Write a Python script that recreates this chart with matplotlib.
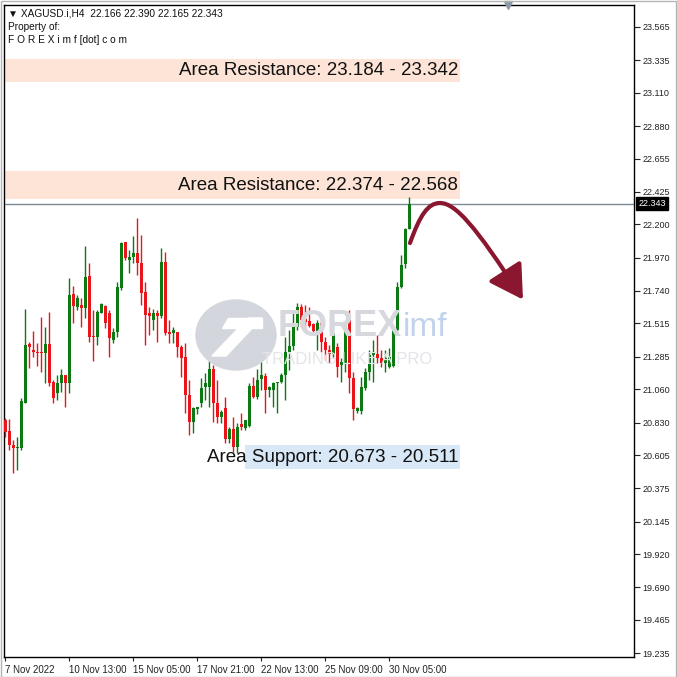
import matplotlib.pyplot as plt
from matplotlib.patches import Rectangle, Ellipse, FancyArrowPatch, Polygon
from matplotlib.path import Path

plt.rcParams['font.family'] = ['Liberation Sans', 'DejaVu Sans']

# H4 candles, XAGUSD
opens = [20.848, 20.774, 20.675, 20.652, 20.652, 20.968, 21.371, 21.332, 21.320, 21.320,
         21.313, 21.371, 21.113, 21.037, 21.106, 21.159, 21.106, 21.719, 21.632, 21.643,
         21.620, 21.844, 21.429, 21.424, 21.590, 21.636, 21.585, 21.401, 21.459, 21.758,
         22.076, 21.954, 21.977, 22.005, 21.931, 21.735, 21.585, 21.539, 21.585, 21.567,
         21.943, 21.459, 21.447, 21.459, 21.350, 21.286, 21.021, 20.836, 20.922, 20.963,
         21.078, 21.078, 21.198, 20.963, 20.871, 20.929, 20.714, 20.783, 20.664, 20.818,
         20.790, 20.806, 21.083, 21.009, 21.129, 21.152, 21.055, 21.055, 21.101, 21.113,
         21.159, 21.320, 21.360, 21.493, 21.627, 21.544, 21.535, 21.512, 21.466, 21.516,
         21.389, 21.332, 21.304, 21.355, 21.228, 21.244, 21.551, 21.136, 20.912, 20.912,
         21.067, 21.182, 21.297, 21.304, 21.274, 21.239, 21.216, 21.221, 21.470, 21.770,
         21.926, 22.166]
highs = [20.859, 20.852, 20.710, 20.733, 20.998, 21.615, 21.389, 21.466, 21.378, 21.562,
         21.493, 21.592, 21.124, 21.159, 21.198, 21.159, 21.827, 21.774, 21.712, 21.689,
         22.053, 21.936, 21.608, 21.608, 21.655, 21.643, 21.608, 21.482, 21.804, 22.081,
         22.081, 22.023, 22.120, 22.242, 22.127, 21.804, 21.632, 21.613, 21.608, 22.035,
         22.012, 21.539, 21.489, 21.459, 21.366, 21.378, 21.124, 20.940, 20.940, 21.136,
         21.171, 21.286, 21.228, 21.124, 20.917, 21.005, 20.802, 20.871, 20.825, 20.899,
         20.848, 21.101, 21.143, 21.198, 21.327, 21.171, 21.083, 21.113, 21.113, 21.171,
         21.424, 21.470, 21.597, 21.659, 21.650, 21.643, 21.632, 21.521, 21.539, 21.528,
         21.424, 21.366, 21.458, 21.378, 21.274, 21.516, 21.608, 21.182, 20.940, 21.147,
         21.205, 21.332, 21.401, 21.435, 21.332, 21.332, 21.343, 21.482, 21.804, 21.989,
         22.173, 22.390]
lows = [20.733, 20.640, 20.479, 20.502, 20.640, 20.963, 21.205, 21.286, 21.221, 21.182,
        21.101, 21.083, 20.968, 20.986, 21.044, 20.935, 21.037, 21.516, 21.608, 21.489,
        21.551, 21.390, 21.258, 21.366, 21.585, 21.482, 21.286, 21.378, 21.424, 21.747,
        21.954, 21.862, 21.931, 21.851, 21.643, 21.366, 21.436, 21.470, 21.390, 21.551,
        21.436, 21.378, 21.383, 21.286, 21.147, 20.894, 20.744, 20.756, 20.889, 20.940,
        20.986, 20.940, 20.836, 20.825, 20.825, 20.687, 20.687, 20.629, 20.618, 20.779,
        20.779, 20.802, 20.998, 20.991, 21.055, 20.899, 21.009, 20.940, 20.894, 21.101,
        20.986, 21.194, 21.332, 21.470, 21.489, 21.475, 21.489, 21.447, 21.332, 21.320,
        21.262, 21.239, 21.286, 21.143, 21.113, 21.182, 21.032, 20.848, 20.894, 20.889,
        21.055, 21.124, 21.113, 21.239, 21.216, 21.182, 21.205, 21.216, 21.458, 21.758,
        21.896, 22.165]
closes = [20.767, 20.675, 20.652, 20.659, 20.982, 21.366, 21.355, 21.320, 21.313, 21.313,
          21.371, 21.101, 20.998, 21.106, 21.159, 21.106, 21.712, 21.636, 21.689, 21.620,
          21.839, 21.424, 21.424, 21.597, 21.648, 21.516, 21.413, 21.459, 21.770, 22.069,
          21.966, 21.977, 22.000, 21.931, 21.724, 21.574, 21.567, 21.585, 21.567, 21.943,
          21.447, 21.443, 21.470, 21.350, 21.274, 21.021, 20.836, 20.929, 20.940, 21.067,
          21.101, 21.198, 20.963, 20.871, 20.905, 20.714, 20.783, 20.664, 20.802, 20.797,
          20.848, 21.083, 21.009, 21.124, 21.159, 21.055, 21.078, 21.101, 21.113, 21.159,
          21.320, 21.360, 21.493, 21.627, 21.539, 21.528, 21.498, 21.466, 21.521, 21.389,
          21.332, 21.304, 21.442, 21.216, 21.251, 21.493, 21.136, 20.921, 20.928, 21.074,
          21.182, 21.297, 21.309, 21.274, 21.239, 21.274, 21.286, 21.470, 21.770, 21.919,
          22.166, 22.343]

# axis labels
y_ticks = [23.565, 23.335, 23.110, 22.880, 22.655, 22.425, 22.200, 21.970, 21.740, 21.515,
           21.285, 21.060, 20.830, 20.605, 20.375, 20.145, 19.920, 19.690, 19.465, 19.235]
x_tick_pos = [0, 16, 32, 48, 64, 80, 96]
x_tick_labels = ['7 Nov 2022', '10 Nov 13:00', '15 Nov 05:00', '17 Nov 21:00',
                 '22 Nov 13:00', '25 Nov 09:00', '30 Nov 05:00']

# zones
res1 = (23.184, 23.342)
res2 = (22.374, 22.568)
sup1 = (20.511, 20.673)
last_price = 22.343

W = 677
fig = plt.figure(figsize=(6.77, 6.77), dpi=100)
ax = fig.add_axes([4 / W, 20 / W, 630 / W, 652 / W])
ax.set_xlim(-0.25, 157.25)
ax.set_ylim(19.209, 23.717)

# outer frame of the picture
fig.patches.append(Rectangle((0.5 / W, 0.5 / W), 1 - 1.5 / W, 1 - 1.5 / W,
                             transform=fig.transFigure, fill=False, ec='#b4b4b4', lw=1))

# zones
zone_end = 113.75
ax.add_patch(Rectangle((-0.25, res1[0]), zone_end + 0.25, res1[1] - res1[0],
                       color='#fde4d6', zorder=1, lw=0))
ax.add_patch(Rectangle((-0.25, res2[0]), zone_end + 0.25, res2[1] - res2[0],
                       color='#fde4d6', zorder=1, lw=0))
ax.add_patch(Rectangle((60, sup1[0]), zone_end - 60, sup1[1] - sup1[0],
                       color='#d8e8f6', zorder=1, lw=0))
ax.text(113.3, sum(res1) / 2, 'Area Resistance: %.3f - %.3f' % res1,
        ha='right', va='center', fontsize=13.5, color='#111111', zorder=5)
ax.text(113.3, sum(res2) / 2, 'Area Resistance: %.3f - %.3f' % res2,
        ha='right', va='center', fontsize=13.5, color='#111111', zorder=5)
ax.text(113.3, sum(sup1) / 2 - 0.006, 'Area Support: %.3f - %.3f' % (sup1[1], sup1[0]),
        ha='right', va='center', fontsize=13.5, color='#111111', zorder=5)

# watermark
fig.patches.append(Ellipse((236 / W, 1 - 335 / W), 80 / W, 70 / W, transform=fig.transFigure,
                           color='#d4d6dd', zorder=0.5))
fig.patches.append(Polygon([(212 / W, 1 - 356 / W), (248 / W, 1 - 318 / W),
                            (262 / W, 1 - 318 / W), (226 / W, 1 - 356 / W)],
                           transform=fig.transFigure, color='white', zorder=0.6))
fig.patches.append(Polygon([(228 / W, 1 - 318 / W), (262 / W, 1 - 318 / W),
                            (262 / W, 1 - 328 / W), (222 / W, 1 - 328 / W)],
                           transform=fig.transFigure, color='white', zorder=0.6))
fig.text(278 / W, 1 - 327 / W, 'FOREX', fontsize=26, fontweight='bold', color='#d6d8de',
         ha='left', va='center', zorder=0.6)
fig.text(403 / W, 1 - 327 / W, 'imf', fontsize=24, color='#c0d3ea',
         ha='left', va='center', zorder=0.6)
fig.text(262 / W, 1 - 360 / W, 'TRADING LIKE A PRO', fontsize=12, color='#e3e4e8',
         ha='left', va='center', zorder=0.6)

# candles
for i in range(len(opens)):
    o, h, l, c = opens[i], highs[i], lows[i], closes[i]
    col = '#0c7a12' if c >= o else '#e8161b'
    ax.vlines(i, l, h, color=col, lw=1, zorder=3)
    ax.bar(i, max(abs(c - o), 0.006), bottom=min(o, c), width=0.75, color=col,
           lw=0, zorder=3)

# last price line and label
ax.axhline(last_price, color='#7d8a96', lw=1, zorder=2)
ax.annotate('%.3f' % last_price, xy=(1, last_price), xycoords=('axes fraction', 'data'),
            xytext=(3, 0), textcoords='offset points', ha='left', va='center',
            fontsize=6.5, color='white', annotation_clip=False,
            bbox=dict(boxstyle='square,pad=0.25', fc='black', ec='black'))

# chart shift marker on top edge
ax.plot([125.75], [1.0], marker='v', ms=6, color='#8c9aa8', transform=ax.get_xaxis_transform(),
        clip_on=False, zorder=7)

# forecast arrow
verts = [(101.25, 22.071), (103.75, 22.265), (105.75, 22.348), (108.75, 22.348),
         (112.5, 22.348), (117.5, 22.196), (129.5, 21.680)]
codes = [Path.MOVETO, Path.CURVE4, Path.CURVE4, Path.CURVE4,
         Path.CURVE4, Path.CURVE4, Path.CURVE4]
arrow = FancyArrowPatch(path=Path(verts, codes), arrowstyle='-|>,head_length=1.2,head_width=0.7',
                        mutation_scale=17, color='#8a1630', lw=3, zorder=6)
ax.add_patch(arrow)

# axes styling
for s in ax.spines.values():
    s.set_color('black')
    s.set_linewidth(1)
ax.yaxis.tick_right()
ax.set_yticks(y_ticks)
ax.set_yticklabels(['%.3f' % v for v in y_ticks])
ax.tick_params(axis='y', direction='out', length=4, labelsize=6.5, pad=2, colors='#222222')
ax.set_xticks(x_tick_pos)
ax.set_xticklabels(x_tick_labels, ha='left')
ax.tick_params(axis='x', direction='out', length=3, labelsize=7, pad=3, colors='#222222')

# header
fig.text(8 / W, 1 - 13 / W, '\u25bc XAGUSD.i,H4  22.166 22.390 22.165 22.343',
         fontsize=7.3, va='center', ha='left', color='#111111')
fig.text(8 / W, 1 - 27 / W, 'Property of:', fontsize=7.3, va='center', ha='left',
         color='#111111')
fig.text(8 / W, 1 - 40 / W, 'F O R E X i m f [dot] c o m', fontsize=7.3, va='center',
         ha='left', color='#111111')

fig.savefig('out.png', dpi=100)
